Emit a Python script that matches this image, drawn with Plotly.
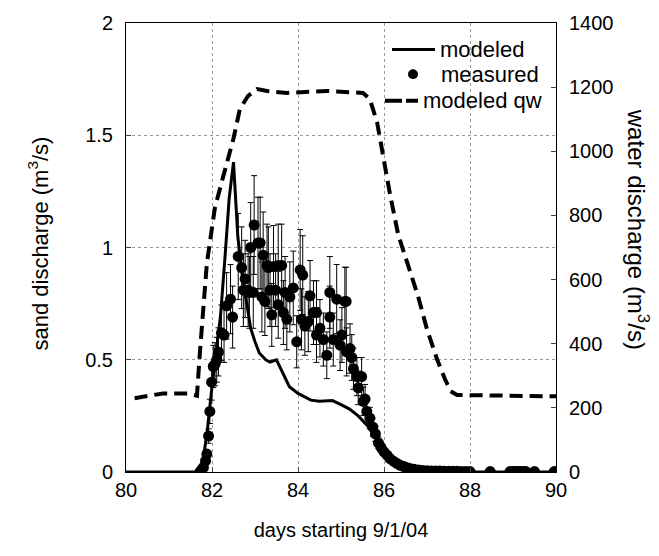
import plotly.graph_objects as go

# modeled sand discharge (m3/s)
model_day = [80.0, 81.0, 81.7, 81.8, 81.9, 82.0, 82.1, 82.2, 82.3, 82.4, 82.5, 82.6, 82.7, 82.8,
             82.9, 83.0, 83.1, 83.25, 83.35, 83.5, 83.65, 83.8, 84.0, 84.3, 84.5, 84.8, 85.0,
             85.2, 85.4, 85.6, 85.8, 86.0, 86.2, 86.4, 86.6, 86.8, 87.0, 88.0, 89.0, 90.0]
model_qs = [0.0, 0.0, 0.0, 0.06, 0.2, 0.38, 0.55, 0.7, 0.95, 1.22, 1.38, 1.05, 0.88, 0.75,
            0.64, 0.58, 0.53, 0.5, 0.49, 0.5, 0.44, 0.38, 0.35, 0.32, 0.315, 0.318, 0.30,
            0.28, 0.25, 0.21, 0.16, 0.11, 0.065, 0.03, 0.01, 0.003, 0.0, 0.0, 0.0, 0.0]

# modeled water discharge (m3/s)
qw_day = [80.2, 80.86, 81.44, 81.65, 81.72, 81.88, 82.07, 82.35, 82.5, 82.65, 82.84, 83.05,
          83.28, 83.74, 84.67, 85.51, 85.67, 85.84, 85.98, 86.14, 86.33, 86.6, 86.79, 87.0,
          87.23, 87.42, 87.55, 87.7, 88.5, 90.0]
qw = [230, 245, 245, 238, 375, 650, 826, 958, 1040, 1133, 1173, 1194,
      1188, 1182, 1188, 1182, 1163, 1090, 979, 866, 740, 630, 549, 445,
      353, 289, 252, 240, 238, 236]

# measured sand discharge (m3/s)
meas_day = [81.72, 81.76, 81.80, 81.85, 81.88, 81.92, 81.95, 81.99, 82.03, 82.07, 82.11, 82.15,
            82.22, 82.28, 82.34, 82.43, 82.48, 82.61, 82.69, 82.73, 82.77, 82.84, 82.87, 82.90,
            82.96, 82.98, 83.07, 83.12, 83.16, 83.19, 83.23, 83.28, 83.31, 83.35, 83.39, 83.43,
            83.48, 83.54, 83.54, 83.62, 83.66, 83.70, 83.74, 83.81, 83.89, 83.97, 84.05, 84.08,
            84.11, 84.16, 84.24, 84.28, 84.36, 84.43, 84.43, 84.51, 84.59, 84.67, 84.74, 84.74,
            84.82, 84.90, 84.98, 85.02, 85.09, 85.12, 85.13, 85.21, 85.25, 85.29, 85.37, 85.40,
            85.48, 85.52, 85.56, 85.60, 85.67, 85.74, 85.80, 85.87, 85.93, 86.00, 86.07, 86.14,
            86.22, 86.30, 86.38, 86.46, 86.54, 86.62, 86.70, 86.80, 86.90, 87.00, 87.10, 87.20,
            87.30, 87.40, 87.50, 87.60, 87.70, 87.80, 87.90, 88.00, 88.47, 88.93, 88.98, 89.03,
            89.08, 89.13, 89.18, 89.24, 89.30, 89.50, 89.96]
meas_qs = [0.0, 0.01, 0.02, 0.05, 0.08, 0.16, 0.27, 0.40, 0.47, 0.48, 0.50, 0.535,
           0.62, 0.61, 0.74, 0.77, 0.69, 0.96, 0.91, 0.81, 0.86, 0.81, 0.80, 1.00,
           0.80, 1.10, 1.02, 1.02, 0.78, 0.965, 0.76, 0.92, 0.91, 0.81, 0.70, 0.915,
           0.81, 0.92, 0.745, 0.92, 0.71, 0.80, 0.68, 0.78, 0.82, 0.58, 0.90, 0.68,
           0.877, 0.65, 0.67, 0.785, 0.71, 0.71, 0.61, 0.64, 0.59, 0.52, 0.69, 0.80,
           0.59, 0.77, 0.565, 0.61, 0.76, 0.76, 0.535, 0.55, 0.51, 0.46, 0.425, 0.375,
           0.425, 0.315, 0.325, 0.27, 0.24, 0.20, 0.17, 0.13, 0.11, 0.09, 0.075, 0.06,
           0.048, 0.038, 0.03, 0.024, 0.019, 0.015, 0.012, 0.009, 0.007, 0.006, 0.005, 0.004,
           0.004, 0.003, 0.003, 0.003, 0.003, 0.002, 0.002, 0.002, 0.002, 0.002, 0.002, 0.002,
           0.002, 0.002, 0.002, 0.002, 0.002, 0.002, 0.002]
meas_err_pct = 20

legend_labels = ["modeled", "measured", "modeled qw"]

FONT = "Liberation Sans, Arial, Helvetica, sans-serif"
FS = 20

# plot-area geometry in pixels (for placing the hand-drawn legend)
W, H = 659, 556
L, R, T, B = 126, 103, 16, 84
PW, PH = W - L - R, H - T - B


def px(xp):
    return (xp - L) / PW


def py(yp):
    return (H - B - yp) / PH


fig = go.Figure()
fig.add_trace(go.Scatter(x=model_day, y=model_qs, mode="lines", name=legend_labels[0],
                         line=dict(color="black", width=3)))
fig.add_trace(go.Scatter(x=meas_day, y=meas_qs, mode="markers", name=legend_labels[1],
                         marker=dict(color="black", size=11),
                         error_y=dict(type="percent", value=meas_err_pct, color="black",
                                      thickness=1, width=3)))
fig.add_trace(go.Scatter(x=qw_day, y=qw, mode="lines", name=legend_labels[2], yaxis="y2",
                         line=dict(color="black", width=4, dash="13px,7px")))

grid = dict(showgrid=True, gridcolor="#9a9a9a", gridwidth=1, griddash="dot")

LEG_FS = 22
annotations = [
    dict(text="sand discharge (m<sup>3</sup>/s)", xref="paper", yref="paper",
         x=px(38), y=py(240), textangle=-90, showarrow=False,
         xanchor="center", yanchor="middle", font=dict(size=22)),
    dict(text="water discharge (m<sup>3</sup>/s)", xref="paper", yref="paper",
         x=px(638), y=py(225), textangle=90, showarrow=False,
         xanchor="center", yanchor="middle", font=dict(size=24)),
    dict(text=legend_labels[0], xref="paper", yref="paper", x=px(438), y=py(43),
         showarrow=False, xanchor="left", yanchor="middle", font=dict(size=LEG_FS)),
    dict(text=legend_labels[1], xref="paper", yref="paper", x=px(439), y=py(68),
         showarrow=False, xanchor="left", yanchor="middle", font=dict(size=LEG_FS)),
    dict(text=legend_labels[2], xref="paper", yref="paper", x=px(421), y=py(95),
         showarrow=False, xanchor="left", yanchor="middle", font=dict(size=LEG_FS)),
]
shapes = [
    dict(type="line", xref="paper", yref="paper", x0=px(392), x1=px(435), y0=py(43), y1=py(43),
         line=dict(color="black", width=3)),
    dict(type="circle", xref="paper", yref="paper", x0=px(408), x1=px(418), y0=py(63), y1=py(73),
         fillcolor="black", line=dict(color="black", width=0)),
    dict(type="line", xref="paper", yref="paper", x0=px(385), x1=px(418), y0=py(95), y1=py(95),
         line=dict(color="black", width=4, dash="17px,4px")),
]

fig.update_layout(
    width=W, height=H,
    margin=dict(l=L, r=R, t=T, b=B),
    paper_bgcolor="white", plot_bgcolor="white",
    font=dict(family=FONT, size=FS, color="black"),
    showlegend=False,
    xaxis=dict(range=[80, 90], dtick=2, tick0=80, ticks="inside", ticklen=5,
               showline=True, linecolor="black", linewidth=1, mirror=True,
               zeroline=False,
               title=dict(text="days starting 9/1/04", standoff=22, font=dict(size=20)),
               **grid),
    yaxis=dict(range=[0, 2], dtick=0.5, ticks="inside", ticklen=5,
               showline=True, linecolor="black", linewidth=1, mirror=True,
               zeroline=False, ticklabelstandoff=8, **grid),
    yaxis2=dict(range=[0, 1400], dtick=200, overlaying="y", side="right",
                ticks="inside", ticklen=5, showgrid=False, zeroline=False,
                showline=True, linecolor="black", ticklabelstandoff=8),
    annotations=annotations,
    shapes=shapes,
)
fig.write_html("out.html")
